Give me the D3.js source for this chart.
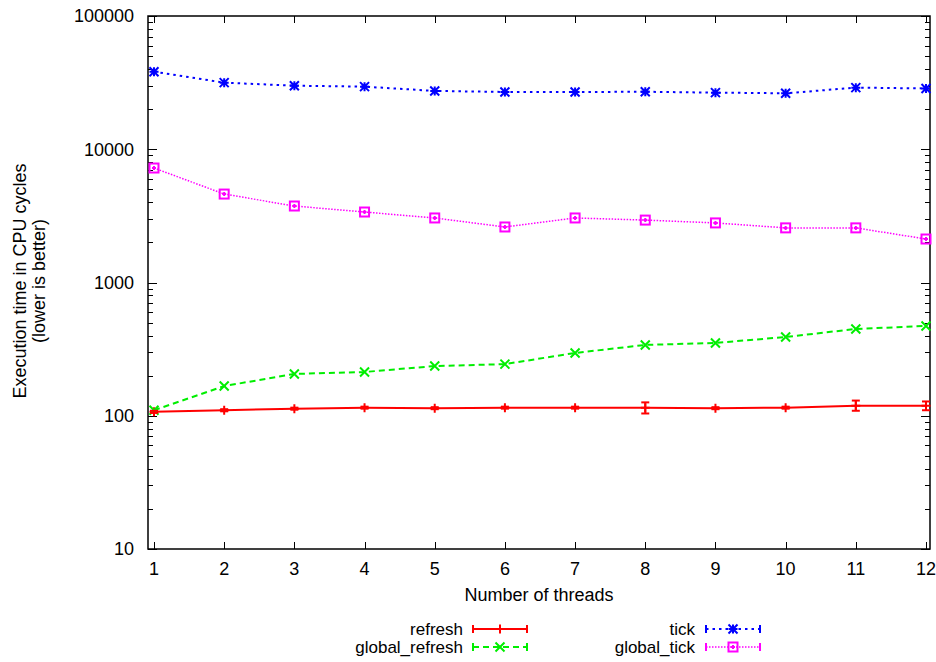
<!doctype html>
<html lang="en">
<head>
	<meta charset="UTF-8">
	<title>Execution time vs threads</title>
	<style>
		body { margin: 0; background: #fff; }
		svg text { font-family: "Liberation Sans", Arial, Helvetica, sans-serif; font-size: 18px; fill: #000; }
		svg text.legend { font-size: 17px; }
	</style>
</head>
<body>
	<script src="https://cdn.jsdelivr.net/npm/d3@7"></script>
	<script>
		// data
		var threads = [1, 2, 3, 4, 5, 6, 7, 8, 9, 10, 11, 12];
		var refresh = [107, 110, 113, 115, 114, 115, 115, 115, 114, 115, 119, 119];
		var refreshLow = [105, 108, 111, 113, 112, 113, 113, 104, 112, 113, 109, 110];
		var refreshHigh = [109, 112, 115, 117, 116, 117, 117, 126, 116, 117, 130, 128];
		var globalRefresh = [110, 167, 206, 213, 236, 244, 296, 340, 352, 390, 448, 472];
		var tick = [38200, 31600, 30000, 29500, 27400, 26900, 26900, 27000, 26600, 26300, 29000, 28600];
		var globalTick = [7230, 4610, 3750, 3380, 3050, 2610, 3050, 2940, 2800, 2570, 2570, 2120];
		var yTickValues = [10, 100, 1000, 10000, 100000];

		var w = 936,
			h = 662,
			plotLeft = 148,
			plotRight = 930,
			plotTop = 16,
			plotBottom = 549;

		var svg = d3.select('body').append('svg')
			.attr('width', w)
			.attr('height', h);

		var xScale = d3.scaleLinear()
			.domain([1, 12])
			.range([154, 926]);

		var yScale = d3.scaleLog()
			.domain([10, 100000])
			.range([plotBottom, plotTop]);

		// frame
		svg.append('rect')
			.attr('x', plotLeft).attr('y', plotTop)
			.attr('width', plotRight - plotLeft).attr('height', plotBottom - plotTop)
			.attr('fill', 'none').attr('stroke', '#000').attr('stroke-width', 1.5);

		// y ticks (major + minor), inside on both sides
		var minor = [];
		for (var d = 10; d < 100000; d *= 10) {
			for (var k = 2; k <= 9; k++) minor.push(d * k);
		}
		var ticks = svg.append('g').attr('stroke', '#000').attr('stroke-width', 1);
		yTickValues.forEach(function(v) {
			var y = Math.round(yScale(v)) + 0.5;
			ticks.append('line').attr('x1', plotLeft).attr('x2', plotLeft + 9).attr('y1', y).attr('y2', y);
			ticks.append('line').attr('x1', plotRight).attr('x2', plotRight - 9).attr('y1', y).attr('y2', y);
		});
		minor.forEach(function(v) {
			var y = Math.round(yScale(v)) + 0.5;
			ticks.append('line').attr('x1', plotLeft).attr('x2', plotLeft + 5).attr('y1', y).attr('y2', y);
			ticks.append('line').attr('x1', plotRight).attr('x2', plotRight - 5).attr('y1', y).attr('y2', y);
		});
		svg.append('g').selectAll('text')
			.data(yTickValues)
			.enter().append('text')
			.attr('x', 134)
			.attr('y', function(v) { return yScale(v); })
			.attr('dy', '0.35em')
			.attr('text-anchor', 'end')
			.text(function(v) { return v; });

		// x ticks
		threads.forEach(function(t) {
			var x = Math.round(xScale(t)) + 0.5;
			ticks.append('line').attr('x1', x).attr('x2', x).attr('y1', plotBottom).attr('y2', plotBottom - 7);
			ticks.append('line').attr('x1', x).attr('x2', x).attr('y1', plotTop).attr('y2', plotTop + 7);
		});
		svg.append('g').selectAll('text')
			.data(threads)
			.enter().append('text')
			.attr('x', function(t) { return xScale(t); })
			.attr('y', 575)
			.attr('text-anchor', 'middle')
			.text(function(t) { return t; });

		// axis titles
		svg.append('text')
			.attr('x', 539).attr('y', 601)
			.attr('text-anchor', 'middle')
			.text('Number of threads');
		var yl = svg.append('text')
			.attr('transform', 'translate(26,281) rotate(-90)')
			.attr('text-anchor', 'middle');
		yl.append('tspan').attr('x', 0).attr('dy', 0).text('Execution time in CPU cycles');
		yl.append('tspan').attr('x', 0).attr('dy', 19).text('(lower is better)');

		// series
		var series = [
			{ name: 'refresh', values: refresh, color: '#ff0000', dash: null, width: 2, marker: 'plus' },
			{ name: 'global_refresh', values: globalRefresh, color: '#00ee00', dash: '6,4', width: 2, marker: 'cross' },
			{ name: 'tick', values: tick, color: '#0000ff', dash: '2.5,4', width: 2, marker: 'star' },
			{ name: 'global_tick', values: globalTick, color: '#ff00ff', dash: '1.5,1.5', width: 1.5, marker: 'box' }
		];

		var line = d3.line()
			.x(function(d) { return xScale(d.x); })
			.y(function(d) { return yScale(d.y); });

		var drawMarker = function(g, type, x, y, color) {
			var s = 4.5;
			var p;
			if (type === 'plus') {
				p = 'M' + (x - s) + ',' + y + 'H' + (x + s) + 'M' + x + ',' + (y - s) + 'V' + (y + s);
			} else if (type === 'cross') {
				p = 'M' + (x - s) + ',' + (y - s) + 'L' + (x + s) + ',' + (y + s) +
					'M' + (x - s) + ',' + (y + s) + 'L' + (x + s) + ',' + (y - s);
			} else if (type === 'star') {
				p = 'M' + (x - s) + ',' + y + 'H' + (x + s) + 'M' + x + ',' + (y - s) + 'V' + (y + s) +
					'M' + (x - s) + ',' + (y - s) + 'L' + (x + s) + ',' + (y + s) +
					'M' + (x - s) + ',' + (y + s) + 'L' + (x + s) + ',' + (y - s);
			} else {
				g.append('rect').attr('x', x - s).attr('y', y - s).attr('width', 2 * s).attr('height', 2 * s)
					.attr('fill', 'none').attr('stroke', color).attr('stroke-width', 2);
				p = 'M' + (x - 2) + ',' + y + 'H' + (x + 2) + 'M' + x + ',' + (y - 2) + 'V' + (y + 2);
			}
			g.append('path').attr('d', p).attr('fill', 'none')
				.attr('stroke', color).attr('stroke-width', 2);
		};

		series.forEach(function(s) {
			var pts = threads.map(function(t, i) { return { x: t, y: s.values[i] }; });
			var g = svg.append('g');
			g.append('path')
				.datum(pts)
				.attr('d', line)
				.attr('fill', 'none')
				.attr('stroke', s.color)
				.attr('stroke-width', s.width)
				.attr('stroke-dasharray', s.dash);
			pts.forEach(function(p) {
				drawMarker(g, s.marker, xScale(p.x), yScale(p.y), s.color);
			});
		});

		// error bars on refresh
		var eb = svg.append('g').attr('stroke', '#ff0000').attr('stroke-width', 2);
		threads.forEach(function(t, i) {
			var x = xScale(t),
				y1 = yScale(refreshLow[i]),
				y2 = yScale(refreshHigh[i]);
			eb.append('line').attr('x1', x).attr('x2', x).attr('y1', y1).attr('y2', y2);
			eb.append('line').attr('x1', x - 4).attr('x2', x + 4).attr('y1', y1).attr('y2', y1);
			eb.append('line').attr('x1', x - 4).attr('x2', x + 4).attr('y1', y2).attr('y2', y2);
		});

		// legend
		var legendPos = [
			{ tx: 463, lx: 473, y: 629 },
			{ tx: 463, lx: 473, y: 647 },
			{ tx: 695, lx: 706, y: 629 },
			{ tx: 695, lx: 706, y: 647 }
		];
		series.forEach(function(s, i) {
			var lp = legendPos[i];
			var g = svg.append('g');
			g.append('text')
				.attr('class', 'legend')
				.attr('x', lp.tx).attr('y', lp.y)
				.attr('dy', '0.35em')
				.attr('text-anchor', 'end')
				.text(s.name);
			g.append('line')
				.attr('x1', lp.lx).attr('x2', lp.lx + 54)
				.attr('y1', lp.y).attr('y2', lp.y)
				.attr('stroke', s.color).attr('stroke-width', s.width)
				.attr('stroke-dasharray', s.dash);
			[lp.lx, lp.lx + 54].forEach(function(cx) {
				g.append('line').attr('x1', cx).attr('x2', cx)
					.attr('y1', lp.y - 4).attr('y2', lp.y + 4)
					.attr('stroke', s.color).attr('stroke-width', 2);
			});
			drawMarker(g, s.marker, lp.lx + 27, lp.y, s.color);
		});
	</script>
</body>
</html>
